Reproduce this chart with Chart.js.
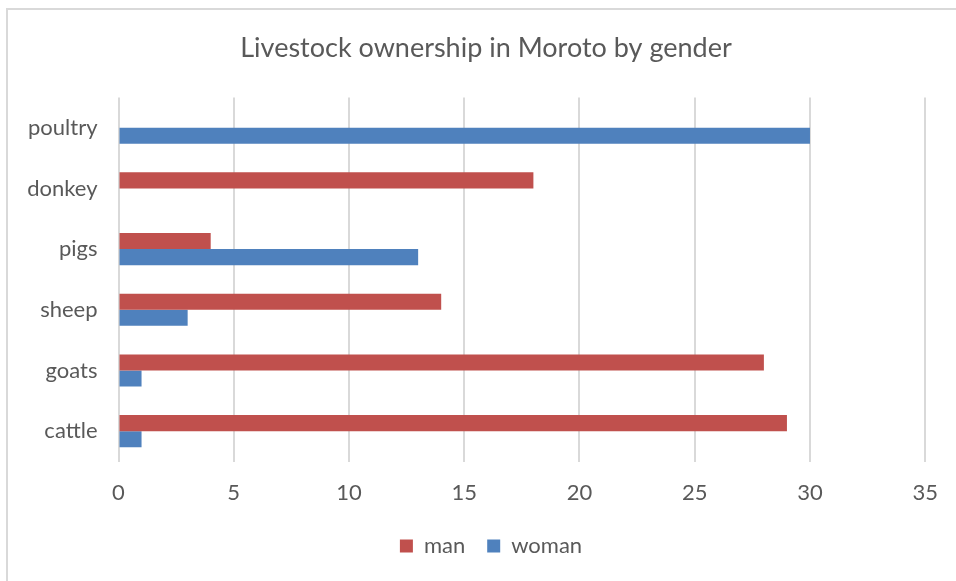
<!DOCTYPE html>
<html>
<head>
<meta charset="utf-8">
<script src="https://cdn.jsdelivr.net/npm/chart.js@4/dist/chart.umd.min.js"></script>
<style>
  html, body { margin: 0; padding: 0; background: #ffffff; }
  #wrap { position: relative; width: 956px; height: 581px; }
  canvas { display: block; }
</style>
</head>
<body>
<div id="wrap"><canvas id="c" width="956" height="581"></canvas></div>
<script>
const categories = ['poultry', 'donkey', 'pigs', 'sheep', 'goats', 'cattle'];
const manValues = [0, 18, 4, 14, 28, 29];
const womanValues = [30, 0, 13, 3, 1, 1];
const seriesNames = ['man', 'woman'];
const chartTitle = 'Livestock ownership in Moroto by gender';

const FONT = 'Lato, "Open Sans", sans-serif';
const TEXT = '#595959';

const frame = {
  id: 'frame',
  beforeDraw(chart) {
    const ctx = chart.ctx;
    ctx.save();
    ctx.fillStyle = '#ffffff';
    ctx.fillRect(0, 0, chart.width, chart.height);
    ctx.strokeStyle = '#d9d9d9';
    ctx.lineWidth = 2;
    ctx.beginPath();
    ctx.moveTo(7, chart.height);
    ctx.lineTo(7, 9);
    ctx.lineTo(chart.width, 9);
    ctx.stroke();
    ctx.restore();
  }
};

// Centre title and legend on the visible chart frame (which extends past the right edge)
const recentre = {
  id: 'recentre',
  afterLayout(chart) {
    if (chart.titleBlock) chart.titleBlock.left += 45;
    if (chart.legend) chart.legend.left += 55;
  }
};

new Chart(document.getElementById('c'), {
  type: 'bar',
  data: {
    labels: categories,
    datasets: [
      { label: seriesNames[0], data: manValues, backgroundColor: '#C0504D', borderWidth: 0 },
      { label: seriesNames[1], data: womanValues, backgroundColor: '#4F81BD', borderWidth: 0 }
    ]
  },
  plugins: [frame, recentre],
  options: {
    indexAxis: 'y',
    responsive: false,
    animation: false,
    devicePixelRatio: 1,
    categoryPercentage: 0.53,
    barPercentage: 1.0,
    layout: { padding: { left: 0, right: 29, top: 0, bottom: 14 } },
    plugins: {
      title: {
        display: true,
        text: chartTitle,
        color: TEXT,
        font: { family: FONT, size: 27, weight: 'normal' },
        padding: { top: 32, bottom: 33 }
      },
      legend: {
        position: 'bottom',
        labels: {
          color: TEXT,
          font: { family: FONT, size: 22 },
          boxWidth: 13,
          boxHeight: 13,
          padding: 22
        }
      },
      tooltip: { enabled: false }
    },
    scales: {
      x: {
        min: 0,
        max: 35,
        ticks: { stepSize: 5, color: TEXT, font: { family: FONT, size: 22 }, padding: 18 },
        grid: { color: '#d9d9d9', lineWidth: 2, drawTicks: false },
        border: { display: false },
        afterFit(scale) { scale.height = 51.5; }
      },
      y: {
        ticks: { color: TEXT, font: { family: FONT, size: 22 }, padding: 21 },
        grid: { display: false, drawTicks: false },
        border: { display: false },
        afterFit(scale) { scale.width = 118.5; }
      }
    }
  }
});
</script>
</body>
</html>
